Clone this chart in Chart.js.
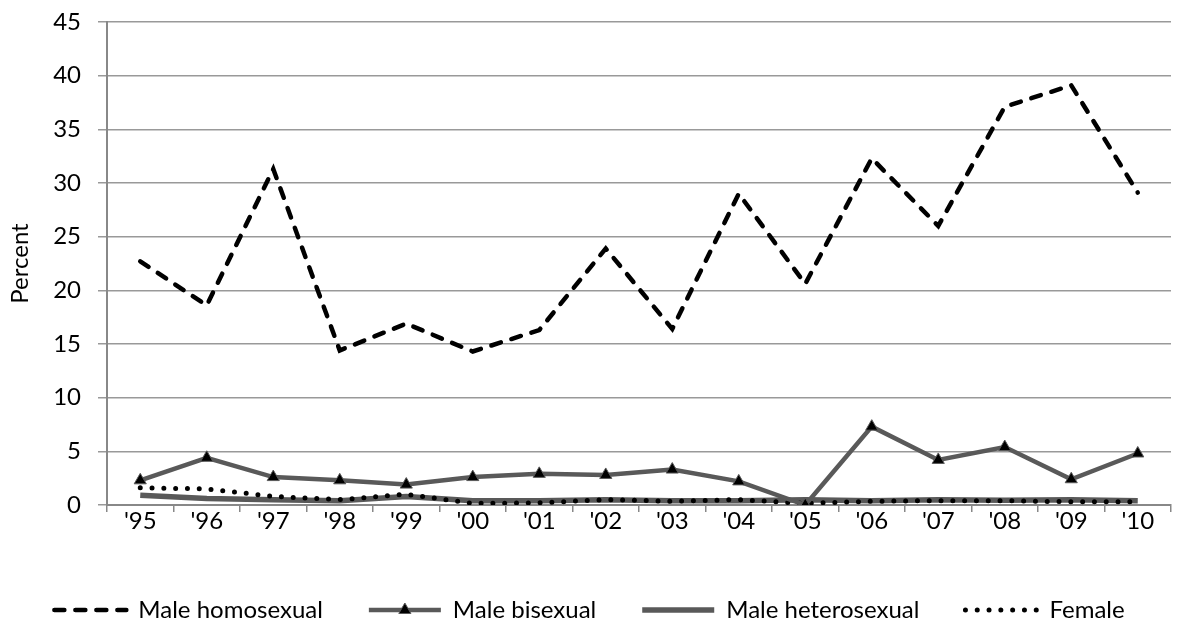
<!DOCTYPE html>
<html>
<head>
<meta charset="utf-8">
<script src="https://cdn.jsdelivr.net/npm/chart.js@4.4.0/dist/chart.umd.min.js"></script>
<style>
  html, body { margin: 0; padding: 0; background: #fff; }
  #wrap { width: 1179px; height: 632px; }
</style>
</head>
<body>
<div id="wrap"><canvas id="chart" width="1179" height="632"></canvas></div>
<script>
// chart data
const years = ["'95", "'96", "'97", "'98", "'99", "'00", "'01", "'02", "'03", "'04", "'05", "'06", "'07", "'08", "'09", "'10"];
const maleHomosexual = [22.7, 18.6, 31.3, 14.4, 16.9, 14.3, 16.3, 23.9, 16.4, 29.0, 20.6, 32.3, 26.0, 37.1, 39.1, 29.1];
const maleBisexual = [2.3, 4.4, 2.6, 2.3, 1.9, 2.6, 2.9, 2.8, 3.3, 2.2, 0.0, 7.3, 4.2, 5.4, 2.4, 4.8];
const maleHeterosexual = [0.9, 0.6, 0.5, 0.4, 0.8, 0.4, 0.4, 0.5, 0.4, 0.4, 0.5, 0.4, 0.5, 0.45, 0.5, 0.4];
const female = [1.6, 1.5, 0.8, 0.5, 1.0, 0.15, 0.2, 0.5, 0.35, 0.5, 0.15, 0.35, 0.4, 0.4, 0.3, 0.3];
const yTicks = [0, 5, 10, 15, 20, 25, 30, 35, 40, 45];

const FONT = "Lato, 'Noto Sans', sans-serif";
const FSIZE = 24;
const GRAY = '#595959';

// draws the triangle on the bisexual legend line
const legendTriangle = {
  id: 'legendTriangle',
  afterDraw(chart) {
    const legend = chart.legend;
    if (!legend || !legend.legendHitBoxes) return;
    const idx = legend.legendItems.findIndex(it => it.datasetIndex === 1);
    const box = legend.legendHitBoxes[idx];
    if (!box) return;
    const ctx = chart.ctx;
    const cx = box.left + legend.options.labels.pointStyleWidth / 2;
    const cy = box.top + box.height / 2;
    const r = 7;
    ctx.save();
    ctx.beginPath();
    ctx.moveTo(cx, cy - r);
    ctx.lineTo(cx + r * 0.866, cy + r * 0.5);
    ctx.lineTo(cx - r * 0.866, cy + r * 0.5);
    ctx.closePath();
    ctx.fillStyle = '#000';
    ctx.fill();
    ctx.lineWidth = 1;
    ctx.strokeStyle = GRAY;
    ctx.stroke();
    ctx.restore();
  }
};

new Chart(document.getElementById('chart'), {
  type: 'line',
  data: {
    labels: years,
    datasets: [
      {
        label: 'Male homosexual',
        data: maleHomosexual,
        borderColor: '#000',
        borderWidth: 4.5,
        borderDash: [10, 11],
        borderCapStyle: 'round',
        pointRadius: 0,
        tension: 0,
        order: 0
      },
      {
        label: 'Male bisexual',
        data: maleBisexual,
        borderColor: GRAY,
        borderWidth: 4.5,
        pointStyle: 'triangle',
        pointRadius: 7,
        pointBackgroundColor: '#000',
        pointBorderColor: GRAY,
        pointBorderWidth: 1,
        tension: 0,
        order: 1
      },
      {
        label: 'Male heterosexual',
        data: maleHeterosexual,
        borderColor: GRAY,
        borderWidth: 5.5,
        pointRadius: 0,
        tension: 0,
        order: 3
      },
      {
        label: 'Female',
        data: female,
        borderColor: '#000',
        borderWidth: 5,
        borderDash: [0, 11.8],
        borderCapStyle: 'round',
        pointRadius: 0,
        tension: 0,
        order: 2
      }
    ]
  },
  options: {
    responsive: false,
    animation: false,
    layout: { padding: { top: 22, right: 0, bottom: 0, left: 0 } },
    plugins: {
      tooltip: { enabled: false },
      legend: {
        position: 'bottom',
        labels: {
          usePointStyle: true,
          pointStyle: 'line',
          pointStyleWidth: 72,
          boxHeight: 10,
          padding: 46,
          color: '#000',
          font: { family: FONT, size: FSIZE },
          generateLabels(chart) {
            return chart.data.datasets.map((ds, i) => ({
              text: ds.label,
              datasetIndex: i,
              strokeStyle: ds.borderColor,
              fillStyle: ds.borderColor,
              lineWidth: ds.borderWidth,
              lineDash: ds.borderDash || [],
              lineCap: ds.borderCapStyle || 'butt',
              pointStyle: 'line',
              hidden: false,
              fontColor: '#000'
            }));
          }
        }
      }
    },
    scales: {
      x: {
        offset: true,
        grid: {
          offset: true,
          drawOnChartArea: false,
          drawTicks: true,
          tickLength: 7,
          color: '#888',
          lineWidth: 1.5
        },
        border: { color: '#888', width: 2 },
        ticks: {
          color: '#000',
          padding: -5,
          maxRotation: 0,
          autoSkip: false,
          font: { family: FONT, size: FSIZE }
        },
        afterFit(scale) { scale.height = 47; }
      },
      y: {
        min: 0,
        max: 45,
        afterBuildTicks(scale) { scale.ticks = yTicks.map(v => ({ value: v })); },
        grid: {
          color: '#999',
          lineWidth: 1.5,
          tickLength: 9
        },
        border: { color: '#888', width: 2 },
        ticks: {
          color: '#000',
          padding: 17,
          font: { family: FONT, size: FSIZE, lineHeight: 0.4 }
        },
        title: {
          display: true,
          text: 'Percent',
          color: '#000',
          padding: { top: 6, bottom: 0 },
          font: { family: FONT, size: FSIZE }
        },
        afterFit(scale) { scale.width = 107; }
      }
    }
  },
  plugins: [legendTriangle]
});
</script>
</body>
</html>
